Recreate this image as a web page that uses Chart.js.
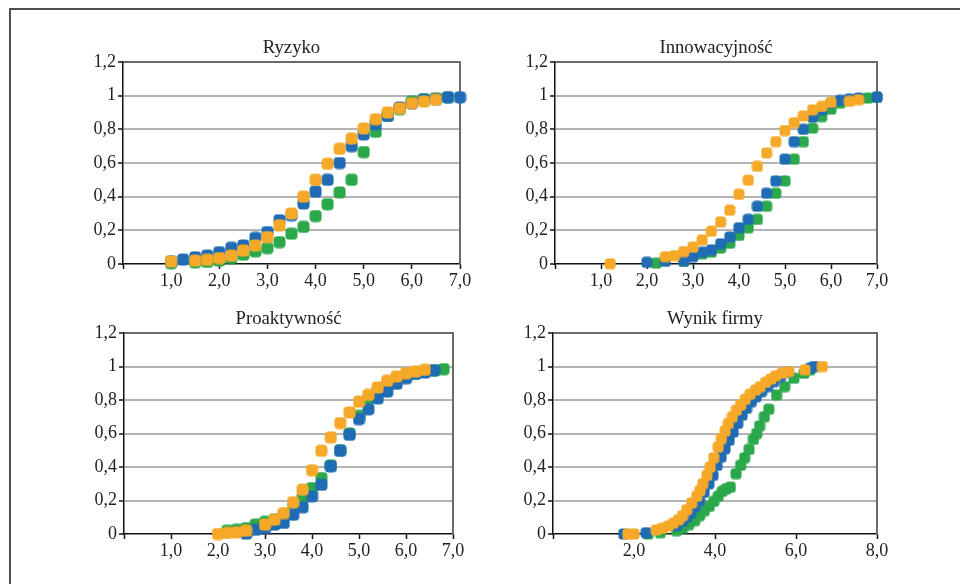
<!DOCTYPE html>
<html>
<head>
<meta charset="utf-8">
<script src="https://cdn.jsdelivr.net/npm/chart.js@4.4.1/dist/chart.umd.min.js"></script>
<style>
  html, body { margin: 0; padding: 0; background: #fff; }
  body { width: 960px; height: 584px; overflow: hidden; position: relative; }
  #frame { position: absolute; left: 9px; top: 8px; width: 1000px; height: 700px;
           border-left: 2px solid #4d4d4d; border-top: 2px solid #4d4d4d; }
  canvas { position: absolute; }
</style>
</head>
<body>
<div id="frame"></div>
<canvas id="c1" width="429" height="270" style="left:53px;top:30px"></canvas>
<canvas id="c2" width="414" height="270" style="left:485px;top:30px"></canvas>
<canvas id="c3" width="421" height="269" style="left:54px;top:301px"></canvas>
<canvas id="c4" width="416" height="269" style="left:483px;top:301px"></canvas>
<script>
// Ryzyko
const ryzykoBlueX = [1, 1.25, 1.5, 1.75, 2, 2.25, 2.5, 2.75, 3, 3.25, 3.5, 3.75, 4, 4.25, 4.5, 4.75, 5, 5.25, 5.5, 5.75, 6, 6.25, 6.5, 6.75, 7];
const ryzykoBlueY = [0.016, 0.026, 0.04, 0.05, 0.07, 0.096, 0.11, 0.155, 0.19, 0.26, 0.29, 0.36, 0.43, 0.5, 0.6, 0.7, 0.77, 0.83, 0.88, 0.93, 0.955, 0.975, 0.98, 0.99, 0.99];
const ryzykoGreenX = [1, 1.5, 1.75, 2, 2.25, 2.5, 2.75, 3, 3.25, 3.5, 3.75, 4, 4.25, 4.5, 4.75, 5, 5.25, 5.5, 5.75, 6, 6.25, 6.5, 6.75];
const ryzykoGreenY = [0.005, 0.01, 0.012, 0.02, 0.035, 0.055, 0.075, 0.095, 0.13, 0.18, 0.22, 0.285, 0.355, 0.425, 0.5, 0.665, 0.785, 0.88, 0.92, 0.965, 0.98, 0.985, 0.99];
const ryzykoOrangeX = [1, 1.5, 1.75, 2, 2.25, 2.5, 2.75, 3, 3.25, 3.5, 3.75, 4, 4.25, 4.5, 4.75, 5, 5.25, 5.5, 5.75, 6, 6.25, 6.5];
const ryzykoOrangeY = [0.015, 0.02, 0.025, 0.035, 0.05, 0.08, 0.11, 0.16, 0.23, 0.3, 0.4, 0.5, 0.595, 0.685, 0.745, 0.805, 0.86, 0.9, 0.925, 0.955, 0.965, 0.975];

// Innowacyjność
const innoBlueX = [2.0, 2.4, 2.8, 3.0, 3.2, 3.4, 3.6, 3.8, 4.0, 4.2, 4.4, 4.6, 4.8, 5.0, 5.2, 5.4, 5.6, 5.8, 6.0, 6.2, 6.4, 6.6, 7.0];
const innoBlueY = [0.01, 0.016, 0.02, 0.044, 0.07, 0.084, 0.12, 0.16, 0.215, 0.265, 0.343, 0.42, 0.494, 0.623, 0.727, 0.8, 0.873, 0.916, 0.956, 0.972, 0.98, 0.986, 0.992];
const innoGreenX = [2.2, 2.8, 3.2, 3.4, 3.6, 3.8, 4.0, 4.2, 4.4, 4.6, 4.8, 5.0, 5.2, 5.4, 5.6, 5.8, 6.0, 6.2, 6.8, 7.0];
const innoGreenY = [0.005, 0.015, 0.06, 0.07, 0.095, 0.123, 0.17, 0.215, 0.265, 0.343, 0.42, 0.494, 0.623, 0.727, 0.807, 0.876, 0.92, 0.956, 0.986, 0.99];
const innoOrangeX = [1.2, 2.4, 2.6, 2.8, 3.0, 3.2, 3.4, 3.6, 3.8, 4.0, 4.2, 4.4, 4.6, 4.8, 5.0, 5.2, 5.4, 5.6, 5.8, 6.0, 6.4, 6.6];
const innoOrangeY = [0.002, 0.044, 0.05, 0.074, 0.1, 0.143, 0.195, 0.25, 0.32, 0.414, 0.498, 0.58, 0.66, 0.727, 0.793, 0.84, 0.88, 0.916, 0.936, 0.96, 0.966, 0.976];

// Proaktywność
const proBlueX = [2.6, 2.8, 3.0, 3.2, 3.4, 3.6, 3.8, 4.0, 4.2, 4.4, 4.6, 4.8, 5.0, 5.2, 5.4, 5.6, 5.8, 6.0, 6.2, 6.4, 6.6];
const proBlueY = [0.002, 0.025, 0.035, 0.056, 0.066, 0.115, 0.16, 0.225, 0.294, 0.404, 0.497, 0.592, 0.686, 0.745, 0.81, 0.85, 0.897, 0.93, 0.956, 0.964, 0.976];
const proGreenX = [2.2, 2.4, 2.6, 2.8, 3.0, 3.2, 3.4, 3.6, 3.8, 4.0, 4.2, 4.4, 4.6, 4.8, 5.0, 5.2, 5.4, 5.6, 5.8, 6.0, 6.2, 6.4, 6.6, 6.8];
const proGreenY = [0.02, 0.025, 0.035, 0.056, 0.072, 0.085, 0.11, 0.16, 0.215, 0.274, 0.334, 0.41, 0.5, 0.6, 0.705, 0.81, 0.85, 0.89, 0.92, 0.94, 0.96, 0.97, 0.978, 0.984];
const proOrangeX = [2.0, 2.2, 2.4, 2.6, 3.0, 3.2, 3.4, 3.6, 3.8, 4.0, 4.2, 4.4, 4.6, 4.8, 5.0, 5.2, 5.4, 5.6, 5.8, 6.0, 6.2, 6.4];
const proOrangeY = [0, 0.006, 0.01, 0.02, 0.056, 0.085, 0.125, 0.19, 0.265, 0.38, 0.497, 0.577, 0.662, 0.726, 0.79, 0.83, 0.875, 0.915, 0.94, 0.96, 0.97, 0.98];

// Wynik firmy
const wynikBlueX = [1.75, 2.3, 3.05, 3.2, 3.3, 3.4, 3.5, 3.62, 3.73, 3.85, 3.95, 4.05, 4.15, 4.25, 4.35, 4.45, 4.56, 4.67, 4.78, 4.9, 5.02, 5.15, 5.3, 5.45, 5.62, 5.8, 6.35, 6.45];
const wynikBlueY = [0.0, 0.008, 0.05, 0.075, 0.1, 0.125, 0.16, 0.2, 0.25, 0.3, 0.35, 0.41, 0.46, 0.51, 0.56, 0.61, 0.66, 0.71, 0.75, 0.79, 0.82, 0.85, 0.88, 0.91, 0.94, 0.965, 0.99, 1.0];
const wynikGreenX = [2.35, 2.65, 3.05, 3.2, 3.35, 3.5, 3.62, 3.74, 3.86, 3.97, 4.08, 4.18, 4.28, 4.38, 4.52, 4.63, 4.73, 4.84, 4.95, 5.03, 5.1, 5.22, 5.33, 5.52, 5.72, 5.95, 6.2, 6.35];
const wynikGreenY = [0.0, 0.008, 0.02, 0.035, 0.055, 0.08, 0.11, 0.14, 0.165, 0.195, 0.225, 0.255, 0.27, 0.28, 0.36, 0.41, 0.455, 0.505, 0.565, 0.6, 0.645, 0.7, 0.745, 0.83, 0.88, 0.93, 0.96, 0.98];
const wynikOrangeX = [1.85, 2.0, 2.55, 2.7, 2.85, 2.97, 3.1, 3.2, 3.3, 3.42, 3.55, 3.63, 3.7, 3.8, 3.88, 3.97, 4.08, 4.16, 4.25, 4.33, 4.43, 4.53, 4.63, 4.75, 4.87, 5.0, 5.12, 5.25, 5.38, 5.5, 5.65, 5.82, 6.22, 6.65];
const wynikOrangeY = [0.0, 0.0, 0.024, 0.034, 0.048, 0.065, 0.085, 0.11, 0.145, 0.185, 0.225, 0.26, 0.3, 0.35, 0.4, 0.455, 0.52, 0.57, 0.615, 0.66, 0.7, 0.74, 0.77, 0.805, 0.835, 0.86, 0.88, 0.905, 0.925, 0.945, 0.96, 0.97, 0.98, 1.0];

const BLUE = '#1f6cb4';
const GREEN = '#2ba84a';
const ORANGE = '#f6a928';
const FONT = "'Liberation Serif', 'DejaVu Serif', serif";

function marker(color, size) {
  const c = document.createElement('canvas');
  c.width = size; c.height = size;
  const g = c.getContext('2d');
  g.fillStyle = color;
  g.beginPath();
  g.roundRect(0.5, 0.5, size - 1, size - 1, size * 0.3);
  g.fill();
  return c;
}

function pts(xs, ys) {
  return xs.map((x, i) => ({ x: x, y: ys[i] }));
}

function fmtY(v) {
  const r = Math.round(v * 10) / 10;
  return Number.isInteger(r) ? String(r) : String(r).replace('.', ',');
}

function fmtX(v) {
  return v === 0 ? '' : v.toFixed(1).replace('.', ',');
}

function makePanel(id, title, xMax, xStep, series, size) {
  const datasets = series.map(s => ({
    data: pts(s.x, s.y),
    pointStyle: marker(s.color, size),
    pointRadius: size / 2,
    backgroundColor: s.color,
    showLine: false,
    clip: false
  }));

  const framePlugin = {
    id: 'frame' + id,
    beforeDatasetsDraw(chart) {
      const a = chart.chartArea;
      const ctx = chart.ctx;
      ctx.save();
      ctx.strokeStyle = '#6a6a6a';
      ctx.lineWidth = 2;
      ctx.beginPath();
      ctx.moveTo(a.right, a.top - 1);
      ctx.lineTo(a.right, a.bottom);
      ctx.stroke();
      ctx.restore();
    },
    afterDraw(chart) {
      const a = chart.chartArea;
      const ctx = chart.ctx;
      ctx.save();
      ctx.fillStyle = '#222';
      ctx.font = '18.7px ' + FONT;
      ctx.textAlign = 'center';
      ctx.textBaseline = 'alphabetic';
      ctx.fillText(title, (a.left + a.right) / 2, a.top - 9);
      ctx.restore();
    }
  };

  return new Chart(document.getElementById(id), {
    type: 'scatter',
    data: { datasets },
    options: {
      responsive: false,
      animation: false,
      events: [],
      layout: { padding: { left: 0, right: 22, top: 32, bottom: 0 } },
      plugins: { legend: { display: false }, tooltip: { enabled: false }, title: { display: false } },
      scales: {
        x: {
          type: 'linear',
          min: 0, max: xMax,
          afterFit(scale) { scale.height = 36; },
          border: { color: '#111', width: 1.5 },
          grid: { drawOnChartArea: false, drawTicks: true, tickLength: 5, tickColor: '#111', tickWidth: 1.5 },
          ticks: { stepSize: xStep, autoSkip: false, maxRotation: 0, padding: 1, color: '#222',
                   font: { family: FONT, size: 18 }, callback: fmtX }
        },
        y: {
          type: 'linear',
          min: 0, max: 1.2,
          afterFit(scale) { scale.width = 70; },
          border: { color: '#111', width: 1.5 },
          grid: {
            drawTicks: true, tickLength: 5, tickColor: '#111', tickWidth: 1.5,
            lineWidth: 2,
            color: ctx => {
              const v = ctx.tick ? ctx.tick.value : 0;
              if (v < 0.01) return 'rgba(0,0,0,0)';
              if (v > 1.19) return '#6a6a6a';
              return '#b4b4b4';
            }
          },
          ticks: { stepSize: 0.2, padding: 2, color: '#222',
                   font: { family: FONT, size: 18 }, callback: fmtY }
        }
      }
    },
    plugins: [framePlugin]
  });
}

makePanel('c1', 'Ryzyko', 7, 1, [
  { x: ryzykoOrangeX, y: ryzykoOrangeY, color: ORANGE },
  { x: ryzykoBlueX, y: ryzykoBlueY, color: BLUE },
  { x: ryzykoGreenX, y: ryzykoGreenY, color: GREEN }
], 13);

makePanel('c2', 'Innowacyjność', 7, 1, [
  { x: innoOrangeX, y: innoOrangeY, color: ORANGE },
  { x: innoBlueX, y: innoBlueY, color: BLUE },
  { x: innoGreenX, y: innoGreenY, color: GREEN }
], 12);

makePanel('c3', 'Proaktywność', 7, 1, [
  { x: proOrangeX, y: proOrangeY, color: ORANGE },
  { x: proBlueX, y: proBlueY, color: BLUE },
  { x: proGreenX, y: proGreenY, color: GREEN }
], 13);

makePanel('c4', 'Wynik firmy', 8, 2, [
  { x: wynikOrangeX, y: wynikOrangeY, color: ORANGE },
  { x: wynikBlueX, y: wynikBlueY, color: BLUE },
  { x: wynikGreenX, y: wynikGreenY, color: GREEN }
], 12);
</script>
</body>
</html>
